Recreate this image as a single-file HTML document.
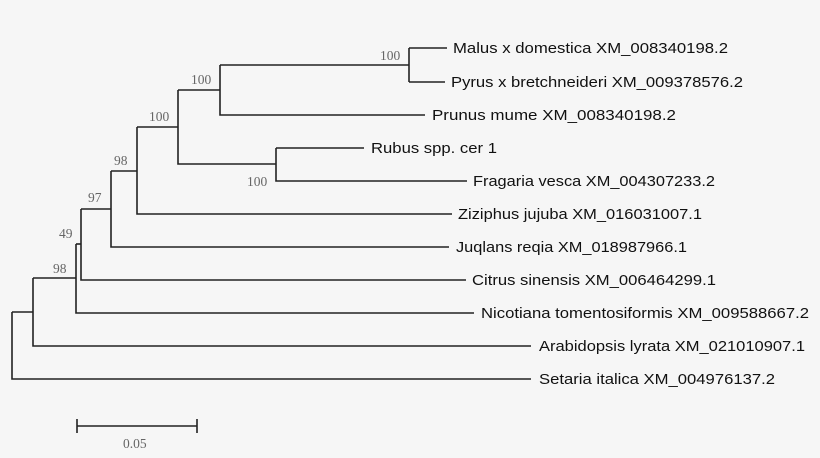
<!DOCTYPE html>
<html><head><meta charset="utf-8"><style>
html,body{margin:0;padding:0;background:#f6f6f6;}
svg{display:block;}
.l{font-family:"Liberation Sans",Arial,sans-serif;font-size:15px;fill:#111;}
.b{font-family:"Liberation Serif","DejaVu Serif",serif;font-size:13.5px;fill:#666;}
</style></head><body>
<svg width="820" height="458" viewBox="0 0 820 458" xmlns="http://www.w3.org/2000/svg">
<rect width="820" height="458" fill="#f6f6f6"/>
<g stroke="#222" stroke-width="1.6" fill="none">
<path d="M12,312 V379 H531"/>
<path d="M12,312 H33"/>
<path d="M33,278 V346 H531"/>
<path d="M33,278 H76"/>
<path d="M76,244 V313 H474"/>
<path d="M76,244 H81"/>
<path d="M81,209 V280 H466"/>
<path d="M81,209 H111"/>
<path d="M111,171 V247 H449"/>
<path d="M111,171 H137"/>
<path d="M137,127 V214 H452"/>
<path d="M137,127 H178"/>
<path d="M178,90 V164 H276"/>
<path d="M178,90 H220"/>
<path d="M220,65 V115 H425"/>
<path d="M220,65 H409"/>
<path d="M409,48 V82"/>
<path d="M409,48 H447"/>
<path d="M409,82 H445"/>
<path d="M276,148 V181 H467"/>
<path d="M276,148 H364"/>
<path d="M77,426 H197 M77,419 V433 M197,419 V433"/>
</g>
<g class="b">
<text x="380" y="60">100</text>
<text x="191" y="84">100</text>
<text x="149" y="121">100</text>
<text x="247" y="186">100</text>
<text x="114" y="165">98</text>
<text x="88" y="202">97</text>
<text x="59" y="238">49</text>
<text x="53" y="273">98</text>
<text x="123" y="448">0.05</text>
</g>
<g class="l">
<text x="453" y="53" textLength="275" lengthAdjust="spacingAndGlyphs">Malus x domestica XM_008340198.2</text>
<text x="451" y="87" textLength="292" lengthAdjust="spacingAndGlyphs">Pyrus x bretchneideri XM_009378576.2</text>
<text x="432" y="120" textLength="244" lengthAdjust="spacingAndGlyphs">Prunus mume  XM_008340198.2</text>
<text x="371" y="153" textLength="126" lengthAdjust="spacingAndGlyphs">Rubus spp. cer 1</text>
<text x="473" y="186" textLength="242" lengthAdjust="spacingAndGlyphs">Fragaria vesca XM_004307233.2</text>
<text x="458" y="219" textLength="244" lengthAdjust="spacingAndGlyphs">Ziziphus jujuba XM_016031007.1</text>
<text x="456" y="252" textLength="231" lengthAdjust="spacingAndGlyphs">Juqlans reqia XM_018987966.1</text>
<text x="472" y="285" textLength="244" lengthAdjust="spacingAndGlyphs">Citrus sinensis XM_006464299.1</text>
<text x="481" y="318" textLength="328" lengthAdjust="spacingAndGlyphs">Nicotiana tomentosiformis XM_009588667.2</text>
<text x="539" y="351" textLength="266" lengthAdjust="spacingAndGlyphs">Arabidopsis lyrata XM_021010907.1</text>
<text x="539" y="384" textLength="236" lengthAdjust="spacingAndGlyphs">Setaria italica XM_004976137.2</text>
</g>
</svg>
</body></html>
